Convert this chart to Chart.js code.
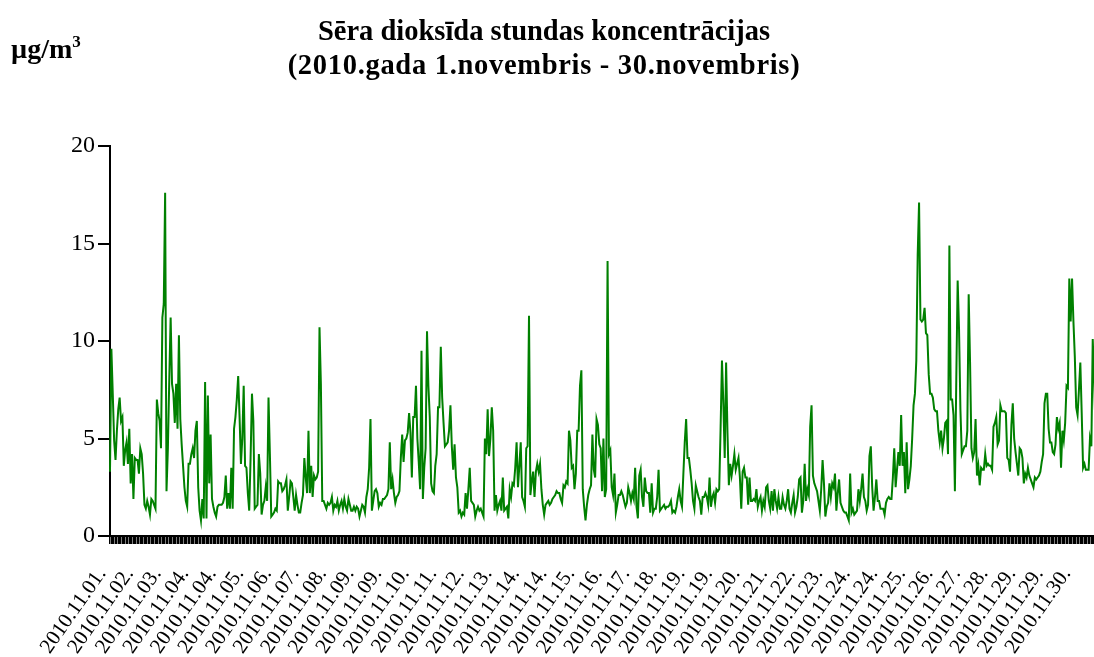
<!DOCTYPE html>
<html lang="lv">
<head>
<meta charset="utf-8">
<title>Sēra dioksīda stundas koncentrācijas</title>
<script src="https://cdn.jsdelivr.net/npm/chart.js@4"></script>
<style>
    html, body { margin: 0; padding: 0; background: #fff; overflow: hidden; }
    #grafika-wrap { position: relative; width: 1094px; height: 657px; overflow: hidden; }
    .teksts { position: absolute; color: #000; font-family: "Liberation Serif", "Times New Roman", serif; font-weight: bold; }
    #vienibas { left: 11px; top: 33px; font-size: 28px; }
    #vienibas sup { font-size: 17px; position: relative; top: -1px; }
    #virsraksts { left: 194px; width: 700px; top: 14px; font-size: 28.5px; line-height: 34px; text-align: center; }
    #virsraksts span:last-child { letter-spacing: 0.7px; }
</style>
</head>
<body>
<div id="grafika-wrap">
    <canvas id="so2-grafika" width="1104" height="657"></canvas>
    <div id="vienibas" class="teksts">µg/m<sup>3</sup></div>
    <div id="virsraksts" class="teksts"></div>
</div>
<script>
// SO2 stundas koncentrācijas, µg/m3 (720 stundas, 2010. gada novembris)
const koncentracijas = [
    3.3, 9.6, 7.3, 4.9, 3.9, 5.4, 6.5, 7.1, 5.9, 6.1,
    3.6, 4.4, 4.8, 3.7, 5.5, 2.7, 4.2, 1.9, 4.0, 3.9,
    3.9, 3.2, 4.5, 4.2, 3.2, 1.6, 1.4, 1.8, 1.5, 1.1,
    1.9, 1.8, 1.6, 1.4, 7.0, 6.3, 5.9, 4.5, 11.2, 11.9,
    17.6, 2.3, 4.5, 8.0, 11.2, 7.8, 7.3, 5.8, 7.8, 5.5,
    10.3, 6.0, 4.7, 3.6, 2.5, 1.8, 1.5, 3.7, 3.7, 4.2,
    4.5, 4.0, 5.4, 5.9, 2.5, 1.3, 0.8, 1.9, 0.9, 7.9,
    0.9, 7.2, 2.7, 5.2, 1.9, 1.5, 1.2, 1.0, 1.5, 1.6,
    1.6, 1.6, 1.7, 2.0, 3.1, 1.4, 2.2, 1.4, 3.5, 1.4,
    5.5, 6.1, 7.0, 8.2, 6.1, 3.7, 5.0, 7.7, 3.6, 3.5,
    2.2, 1.3, 4.0, 7.3, 5.9, 1.4, 1.5, 1.6, 4.2, 3.2,
    1.1, 1.6, 1.8, 2.5, 1.8, 7.1, 4.2, 1.0, 1.1, 1.2,
    1.4, 1.3, 2.8, 2.7, 2.7, 2.3, 2.4, 2.6, 2.9, 1.3,
    2.0, 2.8, 2.7, 2.0, 1.3, 2.1, 1.6, 1.2, 1.2, 1.7,
    2.1, 4.0, 3.0, 2.2, 5.4, 2.2, 3.6, 2.0, 3.1, 2.9,
    3.0, 3.3, 10.7, 7.8, 1.8, 1.8, 1.6, 1.4, 1.7, 1.6,
    1.7, 2.0, 1.3, 1.6, 1.5, 1.8, 1.3, 1.6, 1.8, 1.4,
    1.9, 1.5, 1.3, 1.9, 1.6, 1.3, 1.3, 1.5, 1.3, 1.5,
    1.4, 1.0, 1.3, 1.6, 1.5, 1.2, 2.0, 2.4, 3.5, 6.0,
    1.3, 1.8, 2.3, 2.4, 2.2, 1.5, 1.7, 1.6, 1.9, 1.9,
    2.0, 2.1, 2.4, 4.8, 2.4, 2.9, 2.2, 1.7, 2.0, 2.1,
    2.3, 4.0, 5.2, 3.8, 4.9, 5.0, 5.3, 6.3, 5.3, 3.0,
    6.1, 6.1, 7.7, 5.0, 3.8, 2.4, 9.5, 1.9, 3.5, 4.5,
    10.5, 7.7, 6.1, 2.7, 2.3, 2.2, 3.6, 4.2, 6.6, 6.6,
    9.7, 7.1, 5.8, 4.6, 4.7, 4.8, 5.4, 6.7, 4.6, 3.4,
    4.7, 3.0, 2.5, 1.2, 1.3, 1.0, 1.2, 1.1, 2.2, 1.4,
    2.4, 3.5, 1.8, 1.7, 1.6, 1.0, 1.3, 1.5, 1.3, 1.4,
    1.2, 1.0, 5.0, 4.2, 6.5, 4.1, 5.0, 6.6, 5.4, 1.3,
    2.1, 1.3, 1.6, 1.8, 1.3, 3.0, 1.3, 1.4, 1.5, 0.9,
    2.4, 2.0, 2.7, 2.6, 3.5, 4.8, 2.5, 3.6, 4.8, 2.0,
    1.8, 1.5, 4.5, 4.6, 11.3, 2.1, 2.8, 3.3, 2.0, 3.3,
    3.7, 3.3, 3.7, 2.4, 1.6, 1.1, 1.6, 1.7, 1.8, 1.6,
    1.7, 1.9, 2.0, 2.1, 2.3, 2.2, 2.2, 1.9, 1.7, 2.6,
    2.5, 2.8, 2.7, 5.4, 4.9, 3.5, 3.6, 2.4, 3.2, 5.4,
    5.4, 7.7, 8.5, 2.4, 1.5, 0.8, 1.6, 2.1, 2.4, 2.6,
    5.2, 3.4, 3.0, 6.0, 5.7, 4.7, 4.5, 2.3, 5.0, 2.0,
    2.4, 14.1, 4.2, 4.4, 2.5, 2.1, 3.2, 1.2, 1.6, 2.1,
    2.1, 2.3, 2.1, 1.8, 1.5, 1.7, 2.5, 2.2, 1.8, 2.2,
    1.9, 3.5, 1.5, 0.9, 3.1, 3.4, 2.0, 1.5, 3.0, 2.3,
    2.2, 2.2, 1.2, 2.7, 1.2, 1.4, 1.4, 2.0, 3.4, 1.3,
    1.4, 1.5, 1.6, 1.4, 1.5, 1.5, 1.6, 1.8, 1.2, 1.3,
    1.2, 1.5, 2.0, 2.4, 1.8, 1.5, 3.2, 4.8, 6.0, 4.0,
    4.0, 3.4, 2.7, 1.8, 1.4, 2.6, 2.3, 2.0, 1.8, 1.1,
    2.0, 2.0, 2.2, 2.0, 1.6, 3.0, 1.5, 2.0, 2.2, 1.7,
    2.4, 2.3, 2.4, 5.5, 9.0, 6.8, 4.0, 8.9, 5.3, 2.6,
    3.7, 3.1, 3.6, 4.2, 3.4, 3.7, 4.0, 3.0, 1.4, 3.3,
    3.5, 3.0, 3.0, 1.6, 3.0, 1.8, 1.8, 1.9, 1.8, 2.4,
    1.5, 1.8, 2.0, 1.3, 1.8, 1.5, 2.5, 2.6, 1.8, 1.4,
    2.3, 1.3, 2.4, 1.8, 1.4, 2.0, 1.4, 1.4, 2.0, 1.6,
    1.4, 1.8, 2.4, 1.4, 1.2, 1.7, 2.1, 1.2, 1.5, 2.0,
    2.9, 3.0, 1.2, 1.8, 3.7, 1.8, 2.4, 2.1, 5.6, 6.7,
    3.1, 2.7, 2.5, 2.3, 1.8, 1.3, 2.4, 3.9, 2.7, 1.0,
    1.5, 1.7, 2.7, 2.0, 2.7, 2.5, 3.2, 1.3, 2.2, 2.9,
    1.7, 1.5, 1.3, 1.2, 1.2, 1.0, 0.8, 3.2, 1.2, 1.4,
    1.1, 1.2, 1.3, 2.4, 1.8, 2.4, 3.2, 2.0, 1.8, 1.3,
    1.6, 4.1, 4.6, 2.5, 1.3, 2.0, 2.9, 1.8, 1.8, 1.4,
    1.4, 1.4, 1.1, 1.7, 1.9, 2.0, 1.9, 1.9, 3.0, 4.5,
    2.5, 3.4, 4.3, 3.6, 6.2, 3.6, 4.3, 2.2, 4.8, 2.4,
    2.9, 3.6, 5.0, 6.7, 7.3, 9.0, 14.4, 17.1, 11.1, 11.0,
    11.1, 11.7, 10.4, 10.3, 8.3, 7.3, 7.3, 7.1, 6.5, 6.4,
    6.4, 5.4, 4.8, 5.4, 4.5, 5.0, 5.8, 5.9, 4.2, 14.9,
    7.0, 7.0, 6.2, 2.3, 8.0, 13.1, 10.6, 6.5, 4.2, 4.4,
    4.6, 4.6, 5.4, 12.4, 8.9, 4.5, 4.0, 4.3, 6.0, 3.1,
    3.6, 2.6, 3.5, 3.4, 3.4, 4.2, 3.6, 3.7, 3.6, 3.6,
    3.4, 5.6, 5.8, 6.1, 4.7, 4.9, 6.7, 6.4, 6.4, 6.4,
    6.3, 4.0, 3.9, 3.3, 5.7, 6.8, 5.0, 4.3, 3.7, 3.1,
    4.5, 4.4, 4.0, 2.7, 3.2, 3.0, 3.5, 3.1, 2.9, 2.7,
    2.5, 3.0, 2.9, 3.0, 3.1, 3.3, 3.8, 4.2, 6.8, 7.3,
    7.3, 5.5, 4.8, 4.8, 4.3, 4.2, 4.7, 6.1, 5.5, 5.8,
    3.5, 5.4, 4.9, 5.8, 7.7, 7.6, 13.2, 11.0, 13.2, 11.0,
    9.2, 6.6, 6.2, 7.5, 8.9, 6.3, 3.5, 3.7, 3.4, 3.4,
    3.4, 5.0, 4.6, 10.1, 8.0, 5.5, 4.2, 3.8, 4.6, 5.1
];

// paraksti uz x ass - katru 20. stundu
const datumi = [
    '2010.11.01.', '2010.11.02.', '2010.11.03.', '2010.11.04.', '2010.11.04.', '2010.11.05.',
    '2010.11.06.', '2010.11.07.', '2010.11.08.', '2010.11.09.', '2010.11.09.', '2010.11.10.',
    '2010.11.11.', '2010.11.12.', '2010.11.13.', '2010.11.14.', '2010.11.14.', '2010.11.15.',
    '2010.11.16.', '2010.11.17.', '2010.11.18.', '2010.11.19.', '2010.11.19.', '2010.11.20.',
    '2010.11.21.', '2010.11.22.', '2010.11.23.', '2010.11.24.', '2010.11.24.', '2010.11.25.',
    '2010.11.26.', '2010.11.27.', '2010.11.28.', '2010.11.29.', '2010.11.29.', '2010.11.30.'
];
const solis = 20;

const yTicks = [0, 5, 10, 15, 20];

const virsraksts = [
    'Sēra dioksīda stundas koncentrācijas',
    '(2010.gada 1.novembris - 30.novembris)'
];

(function(){
    const grafika = document.querySelector('#so2-grafika');
    if(!grafika) return;

    const virs = document.querySelector('#virsraksts');
    virsraksts.forEach((rinda, i) => {
        if(i > 0) virs.appendChild(document.createElement('br'));
        const span = document.createElement('span');
        span.textContent = rinda;
        virs.appendChild(span);
    });

    const fonts = '"Liberation Serif", "Times New Roman", serif';

    new Chart(grafika, {
        type: 'line',
        data: {
            labels: koncentracijas.map((v, i) => i % solis === 0 ? datumi[i / solis] : ''),
            datasets: [{
                label: 'SO2',
                data: koncentracijas,
                borderColor: '#008000',
                borderWidth: 2,
                pointRadius: 0,
                tension: 0,
                fill: false
            }]
        },
        options: {
            responsive: false,
            animation: false,
            layout: {
                padding: { left: 0, right: 3, top: 146, bottom: 0 }
            },
            scales: {
                x: {
                    grid: {
                        drawOnChartArea: false,
                        drawTicks: true,
                        tickLength: 8,
                        color: '#000',
                        lineWidth: 1.5
                    },
                    border: { color: '#000', width: 2 },
                    ticks: {
                        autoSkip: false,
                        minRotation: 55,
                        maxRotation: 55,
                        padding: 19,
                        labelOffset: -8,
                        color: '#000',
                        font: { family: fonts, size: 21 }
                    },
                    afterFit: scale => {
                        scale.height = 121;
                        scale.paddingLeft = 0;
                        scale.paddingRight = 0;
                    }
                },
                y: {
                    min: 0,
                    max: 20,
                    afterBuildTicks: scale => { scale.ticks = yTicks.map(v => ({ value: v })); },
                    grid: {
                        drawOnChartArea: false,
                        drawTicks: true,
                        tickLength: 12,
                        color: '#000',
                        lineWidth: 2
                    },
                    border: { color: '#000', width: 2 },
                    ticks: {
                        padding: 3,
                        color: '#000',
                        font: { family: fonts, size: 24 }
                    },
                    afterFit: scale => {
                        scale.width = 110;
                        scale.paddingTop = 0;
                        scale.paddingBottom = 0;
                    }
                }
            },
            plugins: {
                legend: { display: false },
                tooltip: { enabled: false }
            }
        }
    });
})();
</script>
</body>
</html>
